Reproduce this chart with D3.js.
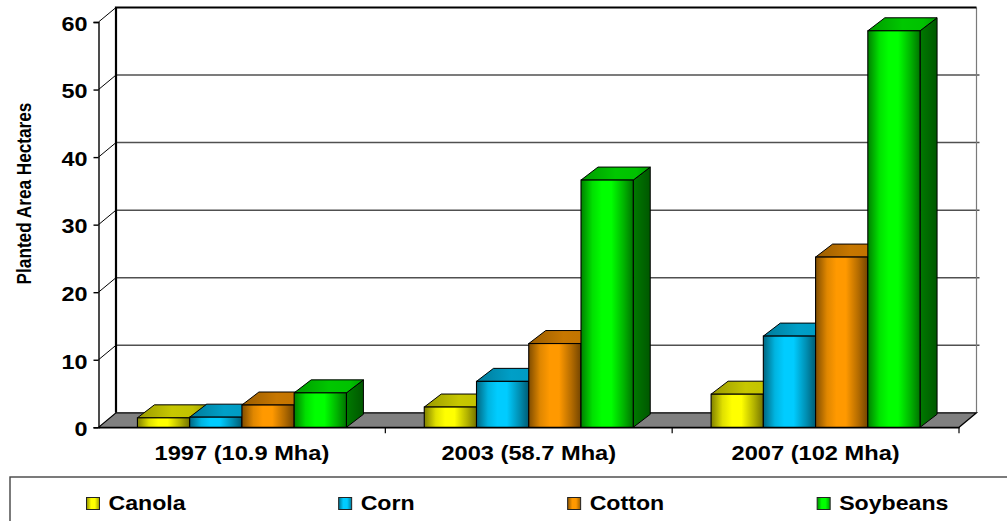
<!DOCTYPE html>
<html>
<head>
<meta charset="utf-8">
<script src="https://cdn.jsdelivr.net/npm/d3@7"></script>
<style>
  html, body { margin: 0; padding: 0; background: #fff; }
  svg { display: block; }
  text { font-family: "Liberation Sans", Arial, sans-serif; font-weight: bold; fill: #000; }
</style>
</head>
<body>
<svg id="chart" width="1007" height="521"></svg>
<script>
// Planted area of GM crops (million hectares) by year
const categories = ["1997 (10.9 Mha)", "2003 (58.7 Mha)", "2007 (102 Mha)"];
const seriesNames = ["Canola", "Corn", "Cotton", "Soybeans"];
const canola   = [1.4, 3.0, 4.9];
const corn     = [1.5, 6.8, 13.5];
const cotton   = [3.3, 12.4, 25.2];
const soybeans = [5.1, 36.6, 58.7];
const yTickValues = [0, 10, 20, 30, 40, 50, 60];
const seriesColors = ["#FFFF00", "#00CCFF", "#FF9900", "#00FF00"];
const yTitle = "Planted Area Hectares";

const seriesValues = [canola, corn, cotton, soybeans];

const svg = d3.select("#chart");
const defs = svg.append("defs");

// 3D layout: front plane and wall depth offsets
const front = { left: 98.5, right: 959, bottom: 427.3, top: 22 };
const wallDX = 17.5, wallDY = 14.5;   // depth of back wall / floor
const barDX = 17, barDY = 13;         // depth of each column
const hStretch = 1.2;                 // horizontal stretch of the lettering

const x = d3.scaleBand().domain(categories).range([front.left, front.right]).paddingInner(0).paddingOuter(0);
const xs = d3.scaleBand().domain(seriesNames).range([0, x.bandwidth()]).paddingInner(0).paddingOuter(0.745);
const y = d3.scaleLinear().domain([0, 60]).range([front.bottom, front.top]);

// shaded fills for the column faces
function scaleColor(c, k) {
  const col = d3.rgb(c);
  return d3.rgb(col.r * k, col.g * k, col.b * k).formatHex();
}
function makeGradient(id, color, stops) {
  const g = defs.append("linearGradient").attr("id", id)
    .attr("x1", "0%").attr("x2", "100%").attr("y1", "0%").attr("y2", "0%");
  stops.forEach(([o, k]) => g.append("stop").attr("offset", o).attr("stop-color", scaleColor(color, k)));
}
seriesNames.forEach((s, i) => {
  const c = seriesColors[i];
  makeGradient("front" + i, c, [[0, 0.5], [0.22, 0.88], [0.4, 1], [0.58, 1], [0.82, 0.7], [1, 0.45]]);
  makeGradient("top" + i, c, [[0, 0.6], [0.5, 0.78], [0.8, 0.76], [1, 0.62]]);
  makeGradient("side" + i, c, [[0, 0.48], [1, 0.34]]);
  makeGradient("legend" + i, c, [[0, 0.55], [0.35, 1], [0.65, 1], [1, 0.6]]);
});

const backLeft = front.left + wallDX, backRight = front.right + wallDX;
const backY = v => y(v) - wallDY;

// back wall gridlines
svg.append("g").selectAll("line")
  .data(yTickValues.filter(v => v > 0 && v < 60))
  .join("line")
  .attr("x1", backLeft).attr("x2", backRight + 3)
  .attr("y1", d => backY(d)).attr("y2", d => backY(d))
  .attr("stroke", "#505050").attr("stroke-width", 1.5);

// right edge of back wall
svg.append("line")
  .attr("x1", backRight).attr("x2", backRight)
  .attr("y1", backY(60)).attr("y2", backY(0))
  .attr("stroke", "#7a7a7a").attr("stroke-width", 1.2);

// side wall gridlines (diagonals from the front axis to the back wall)
svg.append("g").selectAll("line")
  .data(yTickValues.filter(v => v > 0))
  .join("line")
  .attr("x1", front.left).attr("x2", backLeft)
  .attr("y1", d => y(d)).attr("y2", d => backY(d))
  .attr("stroke", "#000").attr("stroke-width", 1);

// back wall top and left borders
svg.append("path")
  .attr("d", `M${backLeft},${backY(0)} L${backLeft},${backY(60)} L${backRight},${backY(60)}`)
  .attr("fill", "none").attr("stroke", "#000").attr("stroke-width", 2.2);

// floor
svg.append("path")
  .attr("d", `M${front.left},${y(0)} L${front.right},${y(0)} L${backRight},${backY(0)} L${backLeft},${backY(0)} Z`)
  .attr("fill", "#808080").attr("stroke", "#000").attr("stroke-width", 1.2);

// columns, drawn left to right so each front face covers its neighbour's side
const bars = [];
categories.forEach((cat, ci) => {
  seriesNames.forEach((s, si) => {
    bars.push({ cat, s, si, v: seriesValues[si][ci] });
  });
});
const barG = svg.append("g");
bars.forEach(b => {
  const x0 = x(b.cat) + xs(b.s), x1 = x0 + xs.bandwidth();
  const yt = y(b.v), yb = y(0);
  const g = barG.append("g");
  g.append("path")
    .attr("d", `M${x1},${yt} L${x1 + barDX},${yt - barDY} L${x1 + barDX},${yb - barDY} L${x1},${yb} Z`)
    .attr("fill", `url(#side${b.si})`).attr("stroke", "#000").attr("stroke-width", 1).attr("stroke-linejoin", "round");
  g.append("path")
    .attr("d", `M${x0},${yt} L${x1},${yt} L${x1 + barDX},${yt - barDY} L${x0 + barDX},${yt - barDY} Z`)
    .attr("fill", `url(#top${b.si})`).attr("stroke", "#000").attr("stroke-width", 1).attr("stroke-linejoin", "round");
  g.append("rect")
    .attr("x", x0).attr("y", yt).attr("width", x1 - x0).attr("height", yb - yt)
    .attr("fill", `url(#front${b.si})`).attr("stroke", "#000").attr("stroke-width", 1.1);
});

// front value axis
const yAxis = d3.axisLeft(y).tickValues(yTickValues).tickSize(5).tickFormat("");
const yAxisG = svg.append("g").attr("transform", `translate(${front.left},0)`).call(yAxis);
yAxisG.select(".domain").attr("stroke", "#000").attr("stroke-width", 1.4);
yAxisG.selectAll(".tick line").attr("stroke", "#000").attr("stroke-width", 1.4);

svg.append("g").selectAll("g")
  .data(yTickValues)
  .join("g")
  .attr("transform", d => `translate(${front.left - 11},${y(d) + 8.8}) scale(${hStretch},1)`)
  .append("text")
  .attr("text-anchor", "end")
  .style("font-size", "19.5px")
  .text(d => d);

// category axis with boundary ticks
const xAxis = d3.axisBottom(x).tickSize(0).tickFormat("");
const xAxisG = svg.append("g").attr("transform", `translate(0,${y(0)})`).call(xAxis);
xAxisG.select(".domain").attr("stroke", "#000").attr("stroke-width", 1.4);
svg.append("g").selectAll("line")
  .data(categories)
  .join("line")
  .attr("x1", d => x(d) + x.bandwidth()).attr("x2", d => x(d) + x.bandwidth())
  .attr("y1", y(0)).attr("y2", y(0) + 6)
  .attr("stroke", "#000").attr("stroke-width", 1.2);

svg.append("g").selectAll("g")
  .data(categories)
  .join("g")
  .attr("transform", d => `translate(${x(d) + x.bandwidth() / 2},459.5) scale(${hStretch},1)`)
  .append("text")
  .attr("text-anchor", "middle")
  .style("font-size", "19.7px")
  .text(d => d);

// value axis title
svg.append("g")
  .attr("transform", `translate(30.5,193.5) scale(${hStretch},1) rotate(-90)`)
  .append("text")
  .attr("text-anchor", "middle")
  .style("font-size", "17.2px")
  .text(yTitle);

// legend
svg.append("rect")
  .attr("x", 10).attr("y", 477).attr("width", 1010).attr("height", 60)
  .attr("fill", "none").attr("stroke", "#444").attr("stroke-width", 1.4);

let lx = 86.5;
seriesNames.forEach((s, i) => {
  const item = svg.append("g");
  item.append("rect")
    .attr("x", lx).attr("y", 497.5).attr("width", 13).attr("height", 12)
    .attr("fill", `url(#legend${i})`).attr("stroke", "#222").attr("stroke-width", 1);
  const tg = item.append("g").attr("transform", `translate(${lx + 22},510) scale(${hStretch},1)`);
  const t = tg.append("text").style("font-size", "19.3px").text(s);
  const w = t.node().getComputedTextLength() * hStretch;
  lx += 22 + w + 153;
});
</script>
</body>
</html>
